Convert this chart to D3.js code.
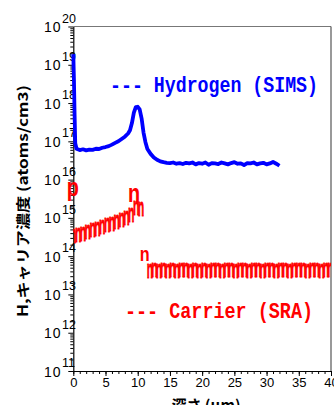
<!DOCTYPE html>
<html>
<head>
<meta charset="utf-8">
<script src="https://cdn.jsdelivr.net/npm/d3@7"></script>
<style>
  body { margin: 0; background: #fff; }
  svg { display: block; }
</style>
</head>
<body>
<svg id="chart" width="334" height="405"></svg>
<script>
// Hydrogen depth profile measured by SIMS (depth in µm, atoms/cm3)
const hydrogenDepth = [
  0.0, 0.1, 0.2, 0.3, 0.5, 0.8, 1.0, 1.5, 2.0, 2.5, 3.0, 3.5, 4.0, 4.5, 5.0, 5.5,
  6.0, 6.5, 7.0, 7.5, 8.0, 8.5, 8.8, 9.1, 9.4, 9.7, 10.0, 10.3, 10.6, 10.9, 11.2,
  11.5, 12.0, 12.5, 13.0, 13.5, 14.0, 14.5, 15.0, 15.5, 16.0, 16.5, 17.0, 17.5,
  18.0, 18.5, 19.0, 19.5, 20.0, 20.5, 21.0, 21.5, 22.0, 22.5, 23.0, 23.5, 24.0,
  24.5, 25.0, 25.5, 26.0, 26.5, 27.0, 27.5, 28.0, 28.5, 29.0, 29.5, 30.0, 30.5,
  31.0, 31.5, 32.0
];
const hydrogenConc = [
  1.9e19, 4.0e18, 5.0e17, 9.0e16, 6.4e16, 6.1e16, 5.9e16, 6.2e16, 5.8e16, 6.1e16, 6.0e16, 6.4e16, 6.3e16, 6.8e16, 7.1e16, 7.5e16,
  8.2e16, 9.1e16, 1.0e17, 1.15e17, 1.32e17, 1.6e17, 1.95e17, 3.0e17, 5.6e17, 7.8e17, 8.0e17, 6.8e17, 4.0e17, 1.7e17, 9.5e16,
  6.3e16, 4.7e16, 3.8e16, 3.3e16, 3.0e16, 2.85e16, 2.75e16, 2.7e16, 2.8e16, 2.6e16, 2.7e16, 2.55e16, 2.75e16,
  2.65e16, 2.8e16, 2.5e16, 2.7e16, 2.6e16, 2.8e16, 2.45e16, 2.7e16, 2.65e16, 2.55e16, 2.8e16, 2.65e16, 2.5e16,
  2.7e16, 2.85e16, 2.6e16, 2.65e16, 2.4e16, 2.7e16, 2.65e16, 2.8e16, 2.5e16, 2.65e16, 2.75e16, 2.5e16, 2.65e16,
  2.9e16, 2.6e16, 2.3e16
];

// Carrier concentration measured by spreading resistance (SRA)
const carrierDepth = [
  0.0, 0.75, 1.5, 2.25, 3.0, 3.75, 4.5, 5.25, 6.0, 6.75, 7.5, 8.25, 9.0, 9.75, 10.5,
  11.9, 12.6, 13.3, 14.0, 14.7, 15.4, 16.1, 16.8, 17.5, 18.2, 18.9, 19.6, 20.3, 21.0,
  21.7, 22.4, 23.1, 23.8, 24.5, 25.2, 25.9, 26.6, 27.3, 28.0, 28.7, 29.4, 30.1, 30.8,
  31.5, 32.2, 32.9, 33.6, 34.3, 35.0, 35.7, 36.4, 37.1, 37.8, 38.5, 39.2, 39.9
];
const carrierConc = [
  3.2e14, 3.5e14, 3.8e14, 4.2e14, 4.6e14, 5.0e14, 5.6e14, 6.3e14, 6.9e14, 7.6e14, 8.5e14, 9.5e14, 1.17e15, 1.8e15, 1.7e15,
  4.1e13, 4.3e13, 4.0e13, 4.2e13, 4.1e13, 4.3e13, 4.0e13, 4.2e13, 4.2e13, 4.1e13, 4.3e13, 4.1e13, 4.2e13, 4.0e13,
  4.2e13, 4.3e13, 4.1e13, 4.2e13, 4.2e13, 4.1e13, 4.3e13, 4.2e13, 4.1e13, 4.2e13, 4.3e13, 4.1e13, 4.2e13, 4.2e13,
  4.1e13, 4.3e13, 4.2e13, 4.1e13, 4.2e13, 4.2e13, 4.3e13, 4.1e13, 4.2e13, 4.2e13, 4.1e13, 4.2e13, 4.2e13
];

// Conductivity type annotations along the carrier profile
const typeLabels = ["p", "n", "n"];
const typeDepth = [-1.0, 8.5, 10.3];
const typeConc = [3.7e15, 2.6e15, 7.6e13];

// Axis ticks
const xTicks = [0, 5, 10, 15, 20, 25, 30, 35, 40];
const yDecades = [11, 12, 13, 14, 15, 16, 17, 18, 19, 20];

const legendLabels = ["--- Hydrogen (SIMS)", "--- Carrier (SRA)"];
const xTitle = "深さ (μm)";
const yTitle = "H,キャリア濃度 (atoms/cm3)";

const svg = d3.select("#chart");
const plotLeft = 73.3, plotRight = 331, plotTop = 26.5, plotBottom = 371;

const x = d3.scaleLinear().domain([0, 40]).range([plotLeft, plotRight]);
const y = d3.scaleLog().domain([1e11, 1e20]).range([plotBottom, plotTop]);

const blue = "#0000ff", red = "#ff0000";

// Frame (top and right)
svg.append("line").attr("x1", plotLeft).attr("x2", plotRight).attr("y1", plotTop).attr("y2", plotTop)
  .attr("stroke", "#777").attr("stroke-width", 1.2);
svg.append("line").attr("x1", plotRight).attr("x2", plotRight).attr("y1", plotTop).attr("y2", plotBottom)
  .attr("stroke", "#555").attr("stroke-width", 1.2);

// X axis: major + minor ticks
const minorX = d3.range(0, 41, 1);
svg.append("g").attr("transform", `translate(0,${plotBottom})`)
  .call(d3.axisBottom(x).tickValues(minorX).tickSize(3).tickFormat(""))
  .call(g => g.select(".domain").remove())
  .selectAll("line").attr("stroke", "#000");
const xAxis = svg.append("g").attr("transform", `translate(0,${plotBottom})`)
  .call(d3.axisBottom(x).tickValues(xTicks).tickSize(5).tickSizeOuter(0).tickPadding(2));
xAxis.select(".domain").attr("stroke", "#000").attr("stroke-width", 1.2);
xAxis.selectAll("text").attr("font-family", "Liberation Sans, Arial, sans-serif")
  .attr("font-size", 13).attr("fill", "#000");

// Y axis: decades + log minor ticks
const minorY = [];
for (let e = 11; e < 20; e++) for (let m = 2; m <= 9; m++) minorY.push(m * Math.pow(10, e));
svg.append("g").attr("transform", `translate(${plotLeft},0)`)
  .call(d3.axisLeft(y).tickValues(minorY).tickSize(3).tickFormat(""))
  .call(g => g.select(".domain").remove())
  .selectAll("line").attr("stroke", "#000");
const yAxis = svg.append("g").attr("transform", `translate(${plotLeft},0)`)
  .call(d3.axisLeft(y).tickValues(yDecades.map(e => Math.pow(10, e))).tickSize(5).tickSizeOuter(0).tickFormat(""));
yAxis.select(".domain").attr("stroke", "#000").attr("stroke-width", 1.2);

// Y tick labels as 10 with superscript exponent
const yl = svg.append("g").attr("font-family", "Liberation Sans, Arial, sans-serif").attr("fill", "#000");
yDecades.forEach(e => {
  const py = y(Math.pow(10, e));
  yl.append("text").attr("x", 61.5).attr("y", py + 5.5).attr("text-anchor", "end")
    .attr("font-size", 14).attr("letter-spacing", 1).text("10");
  yl.append("text").attr("x", 62).attr("y", py - 4).attr("font-size", 12.5).text(String(e));
});

// Hydrogen profile line
const hData = hydrogenDepth.map((d, i) => [d, hydrogenConc[i]]);
svg.append("path").datum(hData)
  .attr("fill", "none").attr("stroke", blue).attr("stroke-width", 3.8)
  .attr("stroke-linejoin", "round").attr("stroke-linecap", "butt")
  .attr("d", d3.line().x(d => x(d[0])).y(d => y(d[1])));

// Carrier profile: "n"-glyph markers, clipped to the plot area
svg.append("clipPath").attr("id", "plotClip").append("rect")
  .attr("x", plotLeft).attr("y", plotTop).attr("width", plotRight - plotLeft).attr("height", plotBottom - plotTop);
const cData = carrierDepth.map((d, i) => [d, carrierConc[i]]);
svg.append("g").attr("clip-path", "url(#plotClip)")
  .selectAll("g.mk").data(cData).join("g").attr("class", "mk")
  .attr("transform", d => `translate(${x(d[0])},${y(d[1])}) scale(0.7,1.7)`)
  .append("text").attr("y", 3.9).attr("text-anchor", "middle")
  .attr("font-family", "Liberation Sans, Arial, sans-serif").attr("font-weight", "bold")
  .attr("font-size", 15).attr("fill", red).attr("stroke", red).attr("stroke-width", 0.5)
  .text("n");

// Conductivity type annotations
const tSizes = [22, 22, 18];
typeLabels.forEach((t, i) => {
  svg.append("text").attr("transform", `translate(${x(typeDepth[i])},${y(typeConc[i])}) scale(0.9,1.15)`)
    .attr("font-family", "Liberation Sans, Arial, sans-serif").attr("font-weight", "bold")
    .attr("font-size", tSizes[i]).attr("fill", red).text(t);
});

// Legend
svg.append("text").attr("x", 110).attr("y", 91.7).attr("font-family", "Liberation Mono, monospace")
  .attr("font-weight", "bold").attr("font-size", 22).attr("fill", blue)
  .attr("textLength", 208).attr("lengthAdjust", "spacingAndGlyphs").attr("xml:space", "preserve")
  .text(legendLabels[0]);
svg.append("text").attr("x", 125).attr("y", 318.3).attr("font-family", "Liberation Mono, monospace")
  .attr("font-weight", "bold").attr("font-size", 22).attr("fill", red)
  .attr("textLength", 188).attr("lengthAdjust", "spacingAndGlyphs").attr("xml:space", "preserve")
  .text(legendLabels[1]);

// Axis titles
svg.append("text").attr("x", 206).attr("y", 411).attr("text-anchor", "middle")
  .attr("font-family", "Noto Sans CJK JP, sans-serif").attr("font-weight", "bold")
  .attr("font-size", 15).attr("fill", "#000").text(xTitle);
svg.append("text").attr("transform", "translate(28,201) rotate(-90)").attr("text-anchor", "middle")
  .attr("font-family", "Noto Sans CJK JP, sans-serif").attr("font-weight", "bold")
  .attr("font-size", 14).attr("fill", "#000")
  .attr("textLength", 232).attr("lengthAdjust", "spacingAndGlyphs").text(yTitle);
</script>
</body>
</html>
